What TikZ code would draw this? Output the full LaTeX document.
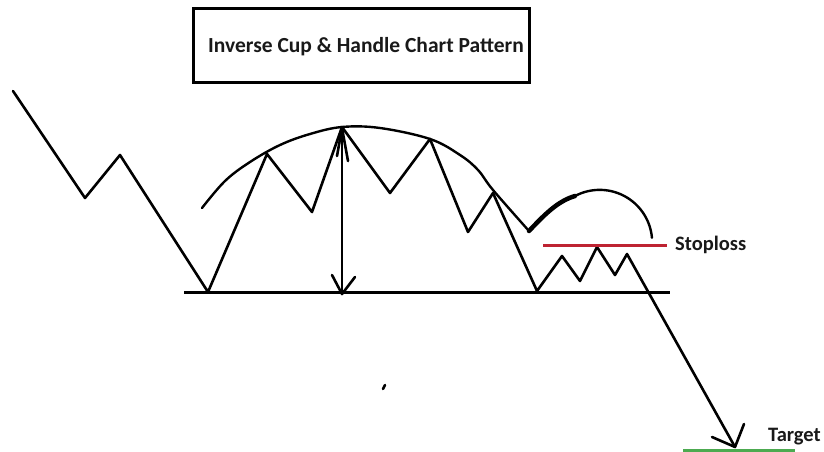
\documentclass[tikz,border=0pt]{standalone}
\usepackage{fontspec}
\setmainfont{Carlito}
\definecolor{stopred}{RGB}{190,35,50}
\definecolor{targetgreen}{RGB}{76,170,80}
\begin{document}
\begin{tikzpicture}[x=1pt,y=-1pt,
  pen/.style={line width=2.6pt,line cap=round,line join=round,black},
  thickpen/.style={line width=4.5pt,line cap=round,line join=round,black},
  label/.style={font=\bfseries\fontsize{20.5}{24}\selectfont,inner sep=0pt,text=black!90}]
\useasboundingbox (0,0) rectangle (824,452);
% title
\node[draw,line width=3pt,minimum width=336pt,minimum height=73pt,inner sep=0pt] (titlebox) at (361,45.5) {};
\node[label,font=\bfseries\fontsize{21.5}{25}\selectfont] (title) at (366,47) {Inverse Cup \& Handle Chart Pattern};
% price path points
\coordinate (p1) at (13,91);
\coordinate (p2) at (85,198);
\coordinate (p3) at (120,155);
\coordinate (p4) at (208,292);
\coordinate (p5) at (267,154);
\coordinate (p6) at (312,212);
\coordinate (p7) at (342,127);
\coordinate (p8) at (390,193);
\coordinate (p9) at (430,139);
\coordinate (p10) at (468,232);
\coordinate (p11) at (493,193);
\coordinate (p12) at (537,291);
\coordinate (p13) at (562,256);
\coordinate (p14) at (580,281);
\coordinate (p15) at (597,247);
\coordinate (p16) at (615,275);
\coordinate (p17) at (627,254);
\coordinate (tgt) at (735,447);
\draw[pen] (p1)--(p2)--(p3)--(p4)--(p5)--(p6)--(p7)--(p8)--(p9)--(p10)--(p11)--(p12)--(p13)--(p14)--(p15)--(p16)--(p17)--(tgt);
% target arrowhead
\coordinate (tl) at (712,437);
\coordinate (tr) at (744,424);
\draw[pen] (tl)--(tgt)--(tr);
% neckline
\coordinate (nl) at (184,292);
\coordinate (nr) at (670,292);
\draw[line width=3pt] (nl)--(nr);
% cup arc
\draw[pen,line width=2.4pt] plot[smooth,tension=0.6] coordinates {(202,208) (225,181) (250,162) (280,145) (310,134) (342,127) (380,128) (430,139) (460,155) (478,170) (493,190) (529,231)};
% handle
\coordinate (hv) at (529,231);
\coordinate (hs) at (575,196);
\draw[thickpen] (hv) .. controls (545,214) and (558,201) .. (hs);
\draw[pen,line width=2.4pt] (hs) arc[start angle=-118,end angle=-5,radius=52.5];
% height arrow
\coordinate (at) at (342,128);
\coordinate (ab) at (342,294);
\draw[pen] (at)--(ab);
\draw[pen] (337,156)--(at)--(348,161);
\draw[pen] (332,275)--(ab)--(355,277);
% stoploss
\coordinate (sl) at (543,245.5);
\coordinate (sr) at (667,245.5);
\draw[stopred,line width=3pt] (sl)--(sr);
\node[label,anchor=west] (stop) at (675,245) {Stoploss};
% target
\coordinate (gl) at (683,450.5);
\coordinate (gr) at (795,450.5);
\draw[targetgreen,line width=2.5pt] (gl)--(gr);
\node[label,anchor=west] (target) at (768,437) {Target};
% stray dot
\coordinate (d1) at (383,389);
\coordinate (d2) at (385,385);
\draw[line width=2.5pt,line cap=round] (d1)--(d2);
\end{tikzpicture}
\end{document}
